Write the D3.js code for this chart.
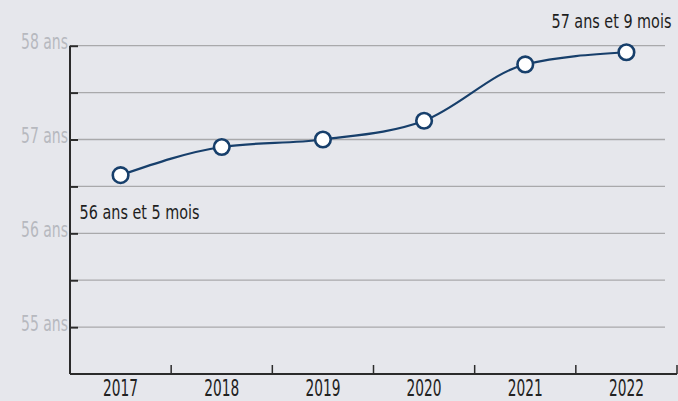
<!DOCTYPE html>
<html>
<head>
<meta charset="utf-8">
<script src="https://cdn.jsdelivr.net/npm/d3@7"></script>
<style>
  body { margin: 0; background: #e6e7ec; }
  svg { display: block; }
  text { font-family: "Liberation Sans Narrow", "Arial Narrow", "DejaVu Sans Condensed", sans-serif; }
</style>
</head>
<body>
<svg id="chart"></svg>
<script>
var width = 678;
var height = 401;

// data
var years = ["2017", "2018", "2019", "2020", "2021", "2022"];
var ages = [56.62, 56.92, 57.0, 57.2, 57.8, 57.93];
var yTicks = [55, 55.5, 56, 56.5, 57, 57.5, 58];
var firstLabel = "56 ans et 5 mois";
var lastLabel = "57 ans et 9 mois";

// the original uses a condensed face, squeeze the text horizontally
var squeezeY = 0.76;
var squeezeX = 0.68;
var squeezeNote = 0.82;

var svg = d3.select("#chart")
  .attr("width", width)
  .attr("height", height);

svg.append("rect")
  .attr("width", width)
  .attr("height", height)
  .attr("fill", "#e6e7ec");

var x = d3.scaleBand()
  .domain(years)
  .range([70, 677])
  .padding(0);

var y = d3.scaleLinear()
  .domain([54.5, 58])
  .range([374, 45.7]);

// gridlines
svg.append("g")
  .selectAll("line")
  .data(yTicks)
  .join("line")
  .attr("x1", 78)
  .attr("x2", 665)
  .attr("y1", function(d) { return y(d); })
  .attr("y2", function(d) { return y(d); })
  .attr("stroke", "#a9a9ab")
  .attr("stroke-width", 1.3);

// left axis
var yAxis = d3.axisLeft(y)
  .tickValues(yTicks)
  .tickSize(-8)
  .tickFormat(function(d) { return d % 1 === 0 ? d + " ans" : ""; });

var gy = svg.append("g")
  .attr("transform", "translate(70,0)")
  .call(yAxis);
gy.select(".domain")
  .attr("d", "M0," + y(58) + "V" + y(54.5))
  .attr("stroke", "#2b2b2b")
  .attr("stroke-width", 2);
gy.selectAll(".tick line")
  .attr("stroke", "#2b2b2b")
  .attr("stroke-width", 2);
gy.selectAll(".tick text")
  .attr("x", -2 / squeezeY)
  .attr("dy", null)
  .attr("y", 3)
  .attr("transform", "scale(" + squeezeY + ",1)")
  .attr("fill", "#b7b9bf")
  .style("font-size", "20.5px");

// bottom axis
var xAxis = d3.axisBottom(x)
  .tickSize(0)
  .tickPadding(0);

var gx = svg.append("g")
  .attr("transform", "translate(0," + y(54.5) + ")")
  .call(xAxis);
gx.select(".domain")
  .attr("d", "M70,0H677")
  .attr("stroke", "#2b2b2b")
  .attr("stroke-width", 2);
gx.selectAll(".tick text")
  .attr("fill", "#222")
  .attr("dy", null)
  .attr("y", 22)
  .attr("transform", "scale(" + squeezeX + ",1)")
  .style("font-size", "22.5px");

// band separators
gx.append("g")
  .selectAll("line")
  .data(years)
  .join("line")
  .attr("x1", function(d) { return x(d) + x.bandwidth(); })
  .attr("x2", function(d) { return x(d) + x.bandwidth(); })
  .attr("y1", 0)
  .attr("y2", -9)
  .attr("stroke", "#2b2b2b")
  .attr("stroke-width", 1.5);

// line
var line = d3.line()
  .x(function(d, i) { return x(years[i]) + x.bandwidth() / 2; })
  .y(function(d) { return y(d); })
  .curve(d3.curveMonotoneX);

svg.append("path")
  .datum(ages)
  .attr("d", line)
  .attr("fill", "none")
  .attr("stroke", "#173f6b")
  .attr("stroke-width", 2.2);

svg.append("g")
  .selectAll("circle")
  .data(ages)
  .join("circle")
  .attr("cx", function(d, i) { return x(years[i]) + x.bandwidth() / 2; })
  .attr("cy", function(d) { return y(d); })
  .attr("r", 7.8)
  .attr("fill", "#fff")
  .attr("stroke", "#173f6b")
  .attr("stroke-width", 2.6);

// annotations
var cx0 = x(years[0]) + x.bandwidth() / 2;
svg.append("text")
  .attr("transform", "translate(" + (cx0 - 41) + "," + (y(ages[0]) + 44.3) + ") scale(" + squeezeNote + ",1)")
  .attr("fill", "#1e1e1e")
  .style("font-size", "19.5px")
  .text(firstLabel);

var cxN = x(years[years.length - 1]) + x.bandwidth() / 2;
svg.append("text")
  .attr("transform", "translate(" + (cxN + 45) + "," + (y(ages[ages.length - 1]) - 24) + ") scale(" + squeezeNote + ",1)")
  .attr("text-anchor", "end")
  .attr("fill", "#1e1e1e")
  .style("font-size", "19.5px")
  .text(lastLabel);
</script>
</body>
</html>
